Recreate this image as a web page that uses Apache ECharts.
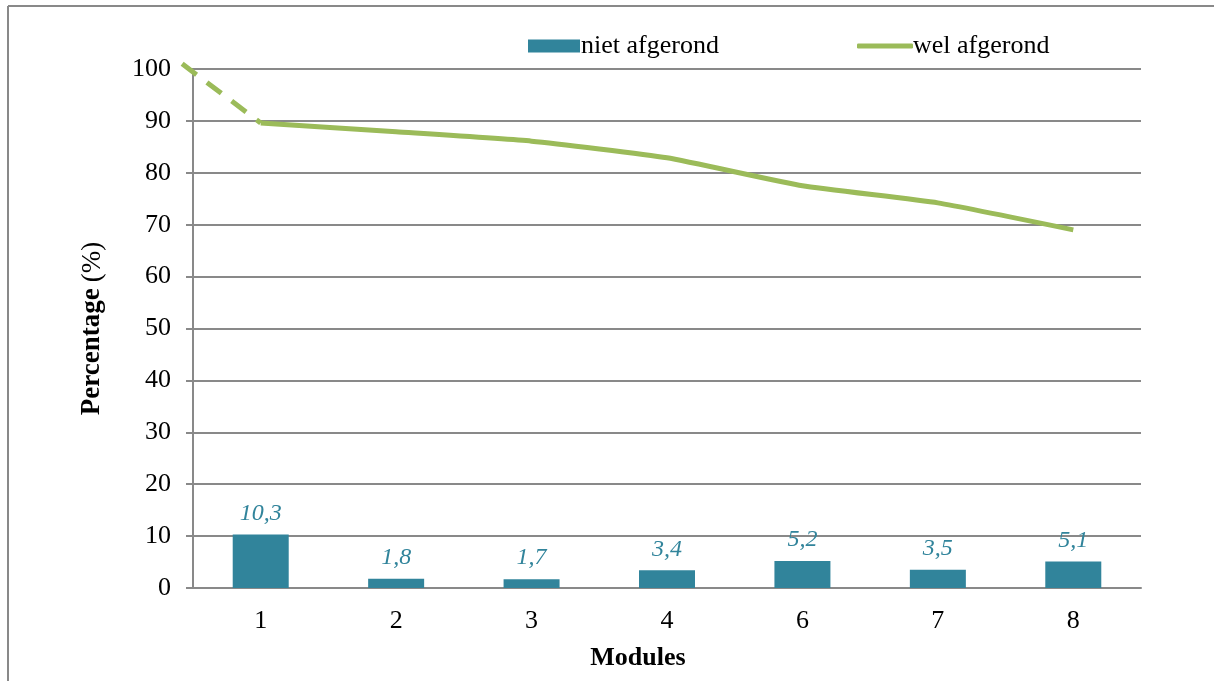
<!DOCTYPE html>
<html><head><meta charset="utf-8">
<script src="https://cdn.jsdelivr.net/npm/echarts@6/dist/echarts.min.js"></script>
<style>html,body{margin:0;padding:0;background:#fff}#c{width:1214px;height:681px}</style>
</head><body><div id="c"></div>
<script>
const categories = ['1','2','3','4','6','7','8'];
const nietAfgerond = [10.3, 1.8, 1.7, 3.4, 5.2, 3.5, 5.1];
const welAfgerond = [89.6, 87.9, 86.1, 82.9, 77.5, 74.2, 69.0];
// dashed lead-in segment: [x position on module scale (1 = first module), value]
const startSegment = [[0.42, 101], [1, 89.6]];
const yTicks = {min: 0, max: 100, interval: 10};

const teal = '#31849B', green = '#9BBB59', grid = '#898989';
const font = 'Liberation Serif';
// main plot box (pixels) and a larger overlay box for the dashed lead-in that runs past the plot edge
const L = 193, R = 73, T = 69, B = 93, plotW = 1214 - L - R, plotH = 681 - T - B;
const extra = 20;
const xPerPx = categories.length / plotW, yPerPx = (yTicks.max - yTicks.min) / plotH;

const chart = echarts.init(document.getElementById('c'));
chart.setOption({
  animation: false,
  textStyle: {fontFamily: font},
  grid: [
    {left: L, right: R, top: T, bottom: B, containLabel: false},
    {left: L - extra, right: R, top: T - extra, bottom: B, containLabel: false}
  ],
  legend: [
    {left: 523, top: 28, itemWidth: 52, itemHeight: 13,
     data: [{name: 'niet afgerond', icon: 'rect'}],
     textStyle: {fontFamily: font, fontSize: 26, color: '#000', padding: [0,0,0,-4]}},
    {left: 852, top: 28, itemWidth: 56, itemHeight: 5,
     data: [{name: 'wel afgerond', icon: 'roundRect'}],
     textStyle: {fontFamily: font, fontSize: 26, color: '#000', padding: [0,0,0,-5]}}
  ],
  xAxis: [
    {type: 'category', data: categories, gridIndex: 0,
     name: 'Modules', nameLocation: 'middle', nameGap: 57,
     nameTextStyle: {fontFamily: font, fontSize: 26, fontWeight: 'bold', color: '#000', padding: [0, 58, 0, 0]},
     axisLine: {lineStyle: {color: grid, width: 2}},
     axisTick: {length: 10, lineStyle: {color: grid, width: 2}},
     axisLabel: {fontFamily: font, fontSize: 26, color: '#000', margin: 20}},
    {type: 'value', gridIndex: 1, min: 0.5 - extra * xPerPx, max: 0.5 + categories.length, show: false}
  ],
  yAxis: [
    {type: 'value', gridIndex: 0, min: yTicks.min, max: yTicks.max, interval: yTicks.interval,
    name: '{b|Percentage}  {n|(%)}', nameLocation: 'middle', nameGap: 87, nameRotate: 90,
    nameTextStyle: {rich: {
      b: {fontFamily: font, fontSize: 27, fontWeight: 'bold', color: '#000'},
      n: {fontFamily: font, fontSize: 27, color: '#000'}}},
    axisLine: {show: true, lineStyle: {color: grid, width: 2}},
    axisTick: {show: true, length: 7, lineStyle: {color: grid, width: 2}},
    axisLabel: {fontFamily: font, fontSize: 26, color: '#000', margin: 22},
    splitLine: {lineStyle: {color: grid, width: 2}}},
    {type: 'value', gridIndex: 1, min: yTicks.min, max: yTicks.max + extra * yPerPx, show: false}
  ],
  series: [
    {name: 'niet afgerond', type: 'bar', data: nietAfgerond, barWidth: 56,
     itemStyle: {color: teal},
     label: {show: true, position: 'top', distance: 9, fontFamily: font, fontSize: 24,
       fontStyle: 'italic', color: teal,
       formatter: p => String(p.value).replace('.', ',')}},
    {name: 'wel afgerond', type: 'line', data: welAfgerond, symbol: 'none', smooth: 0.15,
     lineStyle: {color: green, width: 5}, itemStyle: {color: green}, z: 5},
    {name: 'start', type: 'line', xAxisIndex: 1, yAxisIndex: 1, data: startSegment, symbol: 'none', clip: false,
     lineStyle: {color: green, width: 5, type: [18, 13]}, z: 5}
  ],
  graphic: [
    {type: 'line', shape: {x1: 8, y1: 6, x2: 1214, y2: 6}, style: {stroke: grid, lineWidth: 2}},
    {type: 'line', shape: {x1: 8, y1: 6, x2: 8, y2: 681}, style: {stroke: grid, lineWidth: 2}}
  ]
});
</script></body></html>
